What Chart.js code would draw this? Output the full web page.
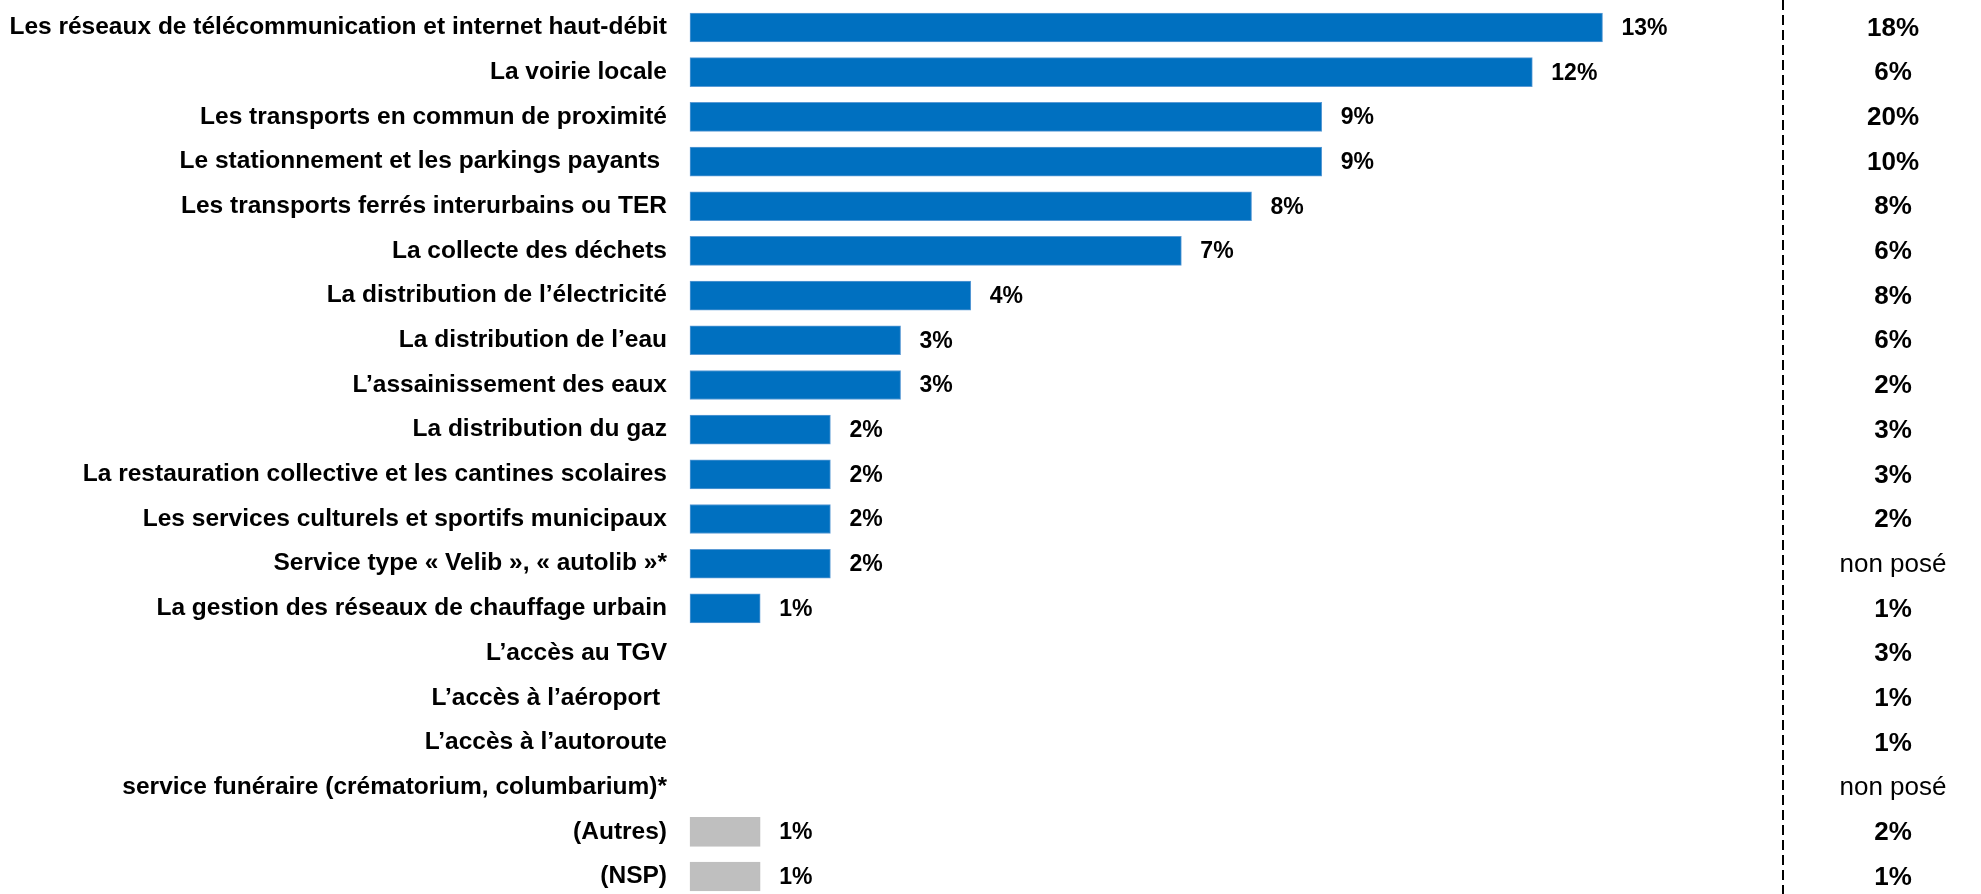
<!DOCTYPE html>
<html lang="fr">
<head>
<meta charset="utf-8">
<title>Services</title>
<script src="https://cdn.jsdelivr.net/npm/chart.js@4/dist/chart.umd.min.js"></script>
<style>
    html, body { margin: 0; padding: 0; background: #fff; }
    #wrap { width: 1981px; height: 894px; position: relative; }
</style>
</head>
<body>
<div id="wrap"><canvas id="chart"></canvas></div>
<script>
// Chart data
const categories = [
    'Les réseaux de télécommunication et internet haut-débit',
    'La voirie locale',
    'Les transports en commun de proximité',
    'Le stationnement et les parkings payants ',
    'Les transports ferrés interurbains ou TER',
    'La collecte des déchets',
    'La distribution de l’électricité',
    'La distribution de l’eau',
    'L’assainissement des eaux',
    'La distribution du gaz',
    'La restauration collective et les cantines scolaires',
    'Les services culturels et sportifs municipaux',
    'Service type « Velib », « autolib »*',
    'La gestion des réseaux de chauffage urbain',
    'L’accès au TGV',
    'L’accès à l’aéroport ',
    'L’accès à l’autoroute',
    'service funéraire (crématorium, columbarium)*',
    '(Autres)',
    '(NSP)'
];
const values = [13, 12, 9, 9, 8, 7, 4, 3, 3, 2, 2, 2, 2, 1, null, null, null, null, 1, 1];
const rightColumn = ['18%', '6%', '20%', '10%', '8%', '6%', '8%', '6%', '2%', '3%', '3%', '2%',
    'non posé', '1%', '3%', '1%', '1%', 'non posé', '2%', '1%'];

const FONT = "'Liberation Sans', Arial, Helvetica, sans-serif";

// Is this row a "non answer" row (grey bar)?
function isOther(i) {
    return categories[i].startsWith('(');
}

// Value labels at the end of each bar
const valueLabels = {
    id: 'valueLabels',
    afterDatasetsDraw(chart) {
        const ctx = chart.ctx;
        const xs = chart.scales.x;
        const ys = chart.scales.y;
        ctx.save();
        ctx.font = 'bold 23px ' + FONT;
        ctx.fillStyle = '#000';
        ctx.textAlign = 'left';
        ctx.textBaseline = 'middle';
        values.forEach((v, i) => {
            if (v === null) return;
            ctx.fillText(v + '%', xs.getPixelForValue(v) + 19, ys.getPixelForValue(i) + 1);
        });
        ctx.restore();
    }
};

// Dashed separator and the right-hand column
const rightPanel = {
    id: 'rightPanel',
    afterDraw(chart) {
        const ctx = chart.ctx;
        const area = chart.chartArea;
        const ys = chart.scales.y;
        const lineX = area.right + 5;
        ctx.save();
        ctx.strokeStyle = '#000';
        ctx.lineWidth = 2;
        ctx.setLineDash([10, 5]);
        ctx.beginPath();
        ctx.moveTo(lineX, 0);
        ctx.lineTo(lineX, chart.height);
        ctx.stroke();
        ctx.setLineDash([]);

        ctx.fillStyle = '#000';
        ctx.textAlign = 'center';
        ctx.textBaseline = 'middle';
        rightColumn.forEach((txt, i) => {
            ctx.font = (txt.endsWith('%') ? 'bold ' : '') + '26px ' + FONT;
            ctx.fillText(txt, lineX + 110, ys.getPixelForValue(i) + 1);
        });
        ctx.restore();
    }
};

const chart = new Chart(document.getElementById('chart'), {
    type: 'bar',
    data: {
        labels: categories,
        datasets: [{
            data: values,
            backgroundColor: ctx => isOther(ctx.dataIndex) ? '#BFBFBF' : '#0070C0',
            borderColor: ctx => isOther(ctx.dataIndex) ? '#BFBFBF' : '#5B9BD5',
            borderWidth: 1,
            borderSkipped: false,
            barThickness: 29,
            clip: false
        }]
    },
    options: {
        indexAxis: 'y',
        responsive: true,
        maintainAspectRatio: false,
        animation: false,
        layout: {
            padding: { top: 27.5, bottom: 17.5, left: 0, right: 203 }
        },
        plugins: {
            legend: { display: false },
            tooltip: { enabled: false }
        },
        scales: {
            x: {
                display: false,
                min: 0,
                max: 15.5
            },
            y: {
                offset: false,
                grid: { display: false, drawTicks: false },
                border: { display: false },
                ticks: {
                    color: '#000',
                    padding: 23,
                    autoSkip: false,
                    font: { family: FONT, size: 24.5, weight: 'bold' }
                },
                afterFit(scale) {
                    scale.width = 690;
                    scale.paddingTop = 0;
                    scale.paddingBottom = 0;
                }
            }
        }
    },
    plugins: [valueLabels, rightPanel]
});
</script>
</body>
</html>
